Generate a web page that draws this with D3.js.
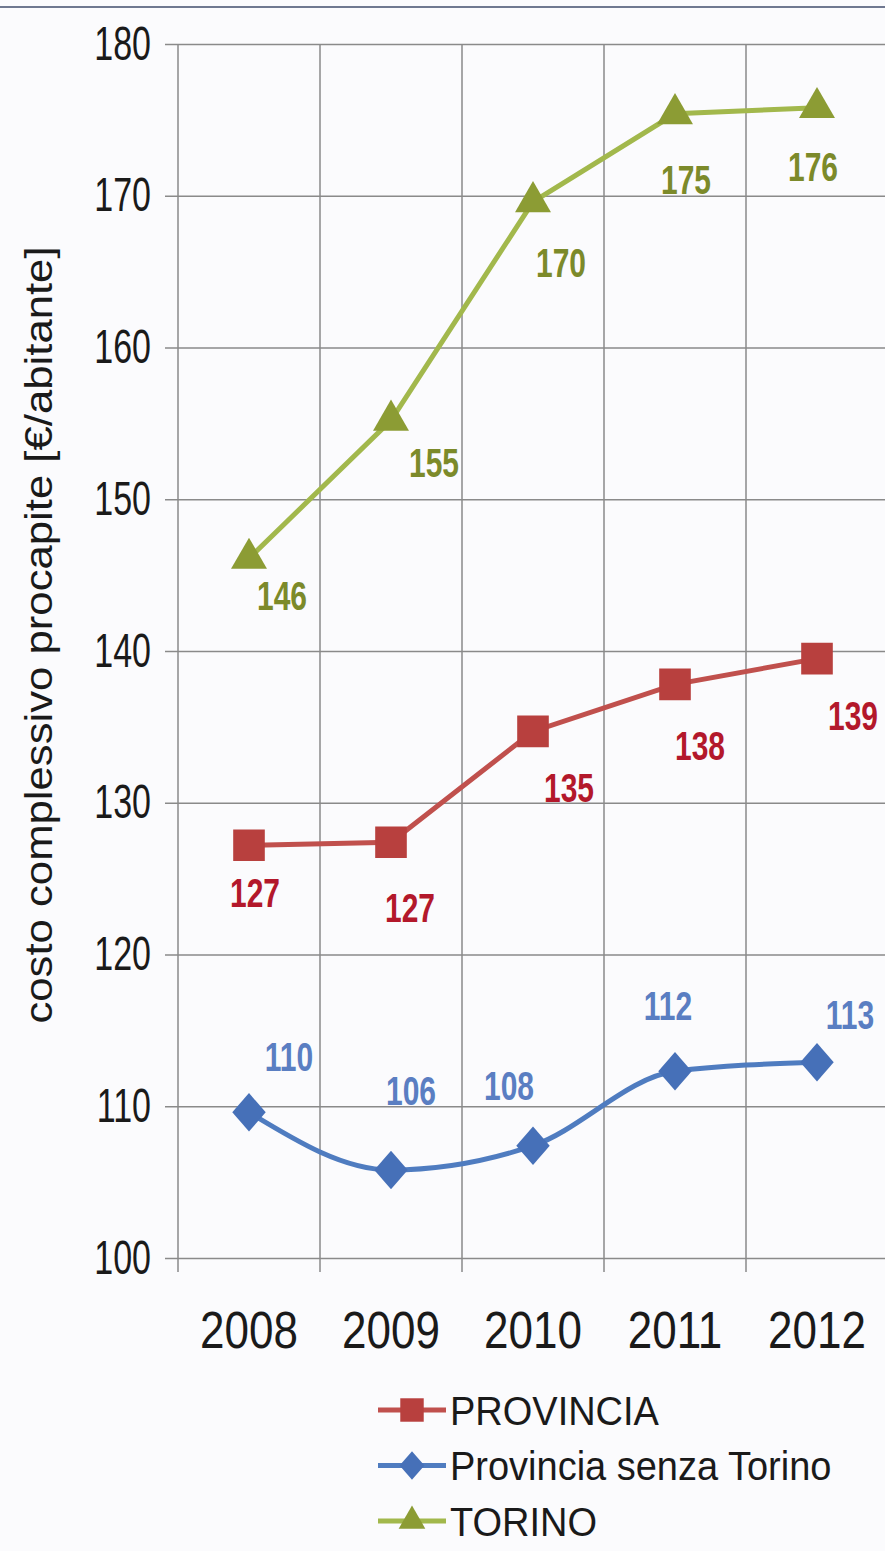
<!DOCTYPE html>
<html>
<head>
<meta charset="utf-8">
<script src="https://cdn.jsdelivr.net/npm/d3@7"></script>
<style>
  body { margin: 0; background: #fbfbfd; }
  text { font-family: "Liberation Sans", Arial, sans-serif; }
</style>
</head>
<body>
<script>
// Data
const years = ["2008", "2009", "2010", "2011", "2012"];
const provincia = [127.2, 127.4, 134.7, 137.8, 139.5];
const provinciaLabels = ["127", "127", "135", "138", "139"];
const senzaTorino = [109.6, 105.8, 107.4, 112.3, 112.9];
const senzaTorinoLabels = ["110", "106", "108", "112", "113"];
const torino = [146.1, 155.2, 169.6, 175.4, 175.8];
const torinoLabels = ["146", "155", "170", "175", "176"];
const yTicks = [100, 110, 120, 130, 140, 150, 160, 170, 180];

const width = 885, height = 1551;
const margin = { top: 44, left: 178, bottom: 1258, right: 888 };
// the source picture is stretched vertically, so text is too
const stretch = 1.35;

const svg = d3.select('body')
    .append('svg')
    .attr('width', width)
    .attr('height', height);

// thin frame line at the very top
svg.append('line')
    .attr('x1', 0).attr('x2', width)
    .attr('y1', 7).attr('y2', 7)
    .attr('stroke', '#6f7890')
    .attr('stroke-width', 2);

const x = d3.scaleBand()
    .domain(years)
    .range([margin.left, margin.right]);

const y = d3.scaleLinear()
    .domain([100, 180])
    .range([margin.bottom, margin.top]);

const gridColor = '#8a8a8a';

// horizontal gridlines + y ticks
svg.append('g')
    .attr('transform', `translate(${margin.left},0)`)
    .call(d3.axisLeft(y).tickValues(yTicks).tickSize(13).tickPadding(14))
    .call(g => g.select('.domain').remove())
    .call(g => g.selectAll('.tick line').attr('stroke', gridColor).attr('stroke-width', 1.5))
    .call(g => g.selectAll('.tick').append('line')
        .attr('x2', margin.right - margin.left)
        .attr('stroke', gridColor).attr('stroke-width', 1.5))
    .call(g => g.selectAll('.tick text')
        .attr('fill', '#1a1a1a')
        .attr('transform', 'scale(1,1.4)')
        .style('font-size', '34px'));

// vertical gridlines on the band edges
const edges = years.map(d => x(d)).concat([margin.right]);
svg.append('g').selectAll('line')
    .data(edges)
    .enter()
    .append('line')
    .attr('x1', d => d).attr('x2', d => d)
    .attr('y1', margin.top)
    .attr('y2', margin.bottom + 14)
    .attr('stroke', gridColor)
    .attr('stroke-width', 1.5);

// x labels
svg.append('g')
    .attr('transform', `translate(0,${margin.bottom + 71})`)
    .call(d3.axisBottom(x).tickSize(0).tickPadding(0))
    .call(g => g.select('.domain').remove())
    .call(g => g.selectAll('.tick text')
        .attr('y', 0)
        .attr('dy', '0.36em')
        .attr('fill', '#1a1a1a')
        .attr('transform', 'scale(1,1.17)')
        .style('font-size', '44px'));

// y axis title
svg.append('text')
    .attr('transform', `translate(52,${(margin.top + margin.bottom) / 2 - 16}) rotate(-90) scale(1.15,1)`)
    .attr('text-anchor', 'middle')
    .attr('fill', '#1a1a1a')
    .style('font-size', '38px')
    .text('costo complessivo procapite [€/abitante]');

const diamond = { draw(ctx, size) {
    const r = Math.sqrt(size / 2);
    ctx.moveTo(0, -r * 1.15);
    ctx.lineTo(r, 0);
    ctx.lineTo(0, r * 1.15);
    ctx.lineTo(-r, 0);
    ctx.closePath();
} };

const series = [
    { name: 'PROVINCIA', values: provincia, labels: provinciaLabels,
      line: '#c0504d', marker: '#b8403e', text: '#b3182b', shape: d3.symbolSquare, size: 1000,
      curve: d3.curveLinear,
      offsets: [[6, 47], [19, 65], [36, 56], [25, 61], [36, 57]] },
    { name: 'Provincia senza Torino', values: senzaTorino, labels: senzaTorinoLabels,
      line: '#4f7cc0', marker: '#4670b8', text: '#5a7ec2', shape: diamond, size: 560,
      curve: d3.curveMonotoneX,
      offsets: [[40, -56], [20, -80], [-24, -60], [-7, -66], [33, -48]] },
    { name: 'TORINO', values: torino, labels: torinoLabels,
      line: '#a2b84c', marker: '#8c9c34', text: '#7c8a2a', shape: d3.symbolTriangle, size: 560,
      curve: d3.curveLinear,
      offsets: [[33, 37], [43, 42], [28, 61], [11, 66], [-4, 59]] }
];

const cx = (i) => x(years[i]) + x.bandwidth() / 2;

series.forEach(s => {
    const line = d3.line()
        .x((d, i) => cx(i))
        .y(d => y(d))
        .curve(s.curve);

    const g = svg.append('g');
    g.append('path')
        .datum(s.values)
        .attr('d', line)
        .attr('fill', 'none')
        .attr('stroke', s.line)
        .attr('stroke-width', 5);

    g.selectAll('.marker')
        .data(s.values)
        .enter()
        .append('path')
        .attr('transform', (d, i) => `translate(${cx(i)},${y(d)})`)
        .attr('d', d3.symbol().type(s.shape).size(s.size))
        .attr('fill', s.marker);

    g.selectAll('.label')
        .data(s.values)
        .enter()
        .append('text')
        .attr('transform', (d, i) =>
            `translate(${cx(i) + s.offsets[i][0]},${y(d) + s.offsets[i][1]}) scale(1,${stretch})`)
        .attr('dy', '0.36em')
        .attr('text-anchor', 'middle')
        .attr('fill', s.text)
        .style('font-size', '30px')
        .style('font-weight', 'bold')
        .text((d, i) => s.labels[i]);
});

// legend
const legend = svg.append('g')
    .selectAll('g')
    .data(series)
    .enter()
    .append('g')
    .attr('transform', (d, i) => `translate(378,${1410 + i * 55.5})`);

legend.append('line')
    .attr('x2', 68)
    .attr('stroke', d => d.line)
    .attr('stroke-width', 5);

legend.append('path')
    .attr('transform', 'translate(34,0)')
    .attr('d', d => d3.symbol().type(d.shape).size(d.size * 0.55)())
    .attr('fill', d => d.marker);

legend.append('text')
    .attr('x', 72)
    .attr('dy', '0.36em')
    .attr('fill', '#1a1a1a')
    .attr('transform', 'scale(1,1.08)')
    .style('font-size', '38px')
    .text(d => d.name);
</script>
</body>
</html>
